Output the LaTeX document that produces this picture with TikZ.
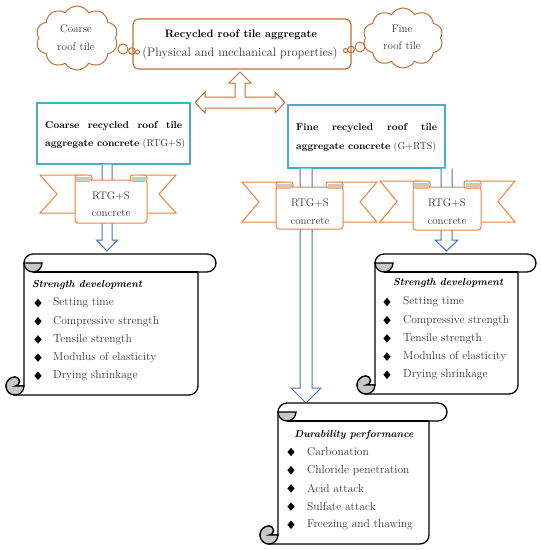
\documentclass[tikz,border=0pt]{standalone}
\usepackage{amssymb}
\usetikzlibrary{shapes.symbols}
\definecolor{brn}{RGB}{196,112,52}
\definecolor{rib}{RGB}{236,130,60}
\definecolor{ribgray}{RGB}{205,200,195}
\definecolor{cyanb}{RGB}{70,175,200}
\definecolor{arrb}{RGB}{70,115,190}
\definecolor{scgray}{RGB}{200,200,200}
\definecolor{txtg}{RGB}{55,55,55}
\tikzset{
 ribline/.style={draw=rib, line width=1pt, fill=white},
 scrollline/.style={draw=black, line width=1.3pt},
 barrowst/.style={draw=arrb, line width=1pt, fill=white, line join=miter},
 bluebox/.style={draw=cyanb, line width=1.3pt, fill=white},
 topbox/.style={draw=brn, line width=1.2pt, rounded corners=6pt},
 itemtxt/.style={anchor=west, inner sep=0pt, font=\fontsize{11.5}{13}\selectfont, text=txtg},
 ttl/.style={inner sep=0pt, font=\bfseries\itshape\fontsize{10.2}{12}\selectfont},
 ribtxt/.style={inner sep=0pt, font=\fontsize{11}{13}\selectfont, text=txtg},
 cloudtxt/.style={inner sep=0pt, font=\fontsize{11}{13}\selectfont, text=txtg},
 boxtxt/.style={anchor=west, inner sep=0pt, font=\fontsize{10}{12}\selectfont},
 cloudst/.style={cloud, draw=brn, line width=1pt, cloud puffs=10, cloud puff arc=120, aspect=1.25, inner sep=0pt},
 bubble/.style={draw=brn, line width=1pt},
}
\newcommand\myribbon[8]{%
 \filldraw[ribline] (#1,#5) -- ({#3+8},#5) -- ({#3+8},#6) -- (#1,#6) -- ({#1+17},{(#5+#6)/2}) -- cycle;
 \filldraw[ribline] (#2,#5) -- ({#4-8},#5) -- ({#4-8},#6) -- (#2,#6) -- ({#2-17},{(#5+#6)/2}) -- cycle;
 \filldraw[ribline, rounded corners=3pt] (#3,#7) rectangle (#4,#8);
 \filldraw[ribline, rounded corners=2.5pt] (#3,#5) rectangle ({#3+17},{#7+1});
 \fill[ribgray] ({#3+1},{#5+2.3}) rectangle ({#3+15.5},{#7+0.5});
 \filldraw[ribline, rounded corners=2.5pt] ({#4-17},#5) rectangle (#4,{#7+1});
 \fill[ribgray] ({#4-15.5},{#5+2.3}) rectangle ({#4-1},{#7+0.5});
}
\newcommand\mybarrow[6]{%
 \filldraw[barrowst] ({#1-#5},#2) -- ({#1-#5},#3) -- ({#1-#6},#3) -- (#1,#4) -- ({#1+#6},#3) -- ({#1+#5},#3) -- ({#1+#5},#2);
}
\newcommand\myscroll[4]{%
 \filldraw[scrollline, fill=white] ({#1+18},{#2+9}) arc (180:270:9) -- ({#3-9},#2) arc (270:450:9) -- ({#3-18},{#2+18}) -- ({#3-18},{#4-9}) arc (0:90:9) -- ({#1+9},#4) arc (90:270:9) arc (270:450:4.5) -- ({#1+18},{#4-9}) -- cycle;
 \draw[scrollline] ({#1+27},{#2+18}) -- ({#3-18},{#2+18});
 \filldraw[scrollline, fill=scgray] ({#1+36},{#2+9}) arc (0:180:9) -- cycle;
 \filldraw[scrollline, fill=scgray] ({#1+9},#4) arc (90:270:9) arc (270:450:4.5) -- ({#1+18},{#4-9}) arc (0:90:9) -- cycle;
}
\newcommand\myitems[5]{%
 \foreach \t [count=\i from 0] in {#5} {%
   \pgfmathsetmacro\yy{#3+\i*18.2}
   \fill[black] ({#1-3.6},\yy) -- (#1,{\yy-4.2}) -- ({#1+3.6},\yy) -- (#1,{\yy+4.2}) -- cycle;
   \node[itemtxt] (#4\i) at (#2,\yy) {\t};
 }}
\begin{document}
\begin{tikzpicture}[x=1pt,y=-1pt]
\fill[white] (0,0) rectangle (541,550);
\useasboundingbox (0,0) rectangle (541,550);

% clouds
\node[cloudst, minimum width=82pt, minimum height=64pt] (cloudL) at (77,38) {};
\node[cloudtxt] (cloudLa) at (76,29) {Coarse};
\node[cloudtxt] (cloudLb) at (76,47) {roof tile};
\draw[bubble] (123,49) circle (5);
\draw[bubble] (132,51) circle (3.3);
\draw[bubble] (137.5,52) circle (2);
\node[cloudst, minimum width=80pt, minimum height=60pt] (cloudR) at (403,38) {};
\node[cloudtxt] (cloudRa) at (402,29) {Fine};
\node[cloudtxt] (cloudRb) at (402,46) {roof tile};
\draw[bubble] (360,47) circle (5);
\draw[bubble] (351,49.5) circle (3.3);
\draw[bubble] (345.5,50.5) circle (2);

% top box
\node[topbox, minimum width=218pt, minimum height=50pt] (agg) at (242,44) {};
\node[inner sep=0pt, font=\bfseries\fontsize{10.8}{13}\selectfont] (aggt) at (241,35) {Recycled roof tile aggregate};
\node[inner sep=0pt, font=\fontsize{12.3}{14}\selectfont, text=txtg] (aggs) at (240,53) {(Physical and mechanical properties)};

% cross arrow
\filldraw[draw=brn, line width=1pt, fill=white, line join=miter]
 (240,72) -- (251,83) -- (245,83) -- (245,97) -- (275,97) -- (275,92) -- (285,102.5) -- (275,113) -- (275,108)
 -- (205,108) -- (205,113) -- (195,102.5) -- (205,92) -- (205,97) -- (235,97) -- (235,83) -- (229,83) -- cycle;

% blue boxes
\node[bluebox, minimum width=153pt, minimum height=61pt] (cbox) at (113.5,133.5) {};
\node[boxtxt, font=\bfseries\fontsize{10}{12}\selectfont] (c1) at (45,126) {\makebox[137pt]{Coarse\hfill recycled\hfill roof\hfill tile}};
\node[boxtxt] (c2) at (45,144) {\textbf{aggregate concrete} \textcolor{txtg}{(RTG+S)}};
\node[bluebox, minimum width=157pt, minimum height=63pt] (fbox) at (366.5,136.5) {};
\node[boxtxt, font=\bfseries\fontsize{10}{12}\selectfont] (f1) at (296,128) {\makebox[141pt]{Fine\hfill recycled\hfill roof\hfill tile}};
\node[boxtxt] (f2) at (296,147) {\textbf{aggregate concrete} \textcolor{txtg}{(G+RTS)}};

% blue arrows
\mybarrow{107}{164.6}{240}{251}{5}{10.5}
\mybarrow{306}{168.6}{388}{403}{6}{15}
\mybarrow{446.5}{168.6}{240}{251}{5.5}{11.5}

% ribbons
\myribbon{40}{176}{75}{147}{175}{213}{180}{223}
\node[ribtxt] (r1a) at (111,196) {RTG+S};
\node[ribtxt] (r1b) at (111,213) {concrete};
\myribbon{242}{377}{276}{343}{182}{222}{187}{229}
\node[ribtxt] (r2a) at (310,203) {RTG+S};
\node[ribtxt] (r2b) at (310,221) {concrete};
\myribbon{380}{515}{413}{481}{181}{222}{187}{230}
\node[ribtxt] (r3a) at (447,203) {RTG+S};
\node[ribtxt] (r3b) at (447,221) {concrete};

% scrolls
\myscroll{6}{254}{216}{395}
\node[ttl, anchor=west] (s1t) at (32,285) {Strength development};
\myitems{38}{53}{303}{sa}{Setting time,Compressive strength,Tensile strength,Modulus of elasticity,Drying shrinkage}

\myscroll{357}{254}{536}{394}
\node[ttl, anchor=west] (s2t) at (393,283) {Strength development};
\myitems{387}{403}{302}{sb}{Setting time,Compressive strength,Tensile strength,Modulus of elasticity,Drying shrinkage}

\myscroll{260}{403}{447}{544}
\node[ttl] (s3t) at (354,435) {Durability performance};
\myitems{291}{307}{452}{sc}{Carbonation,Chloride penetration,Acid attack,Sulfate attack,Freezing and thawing}
\end{tikzpicture}
\end{document}
